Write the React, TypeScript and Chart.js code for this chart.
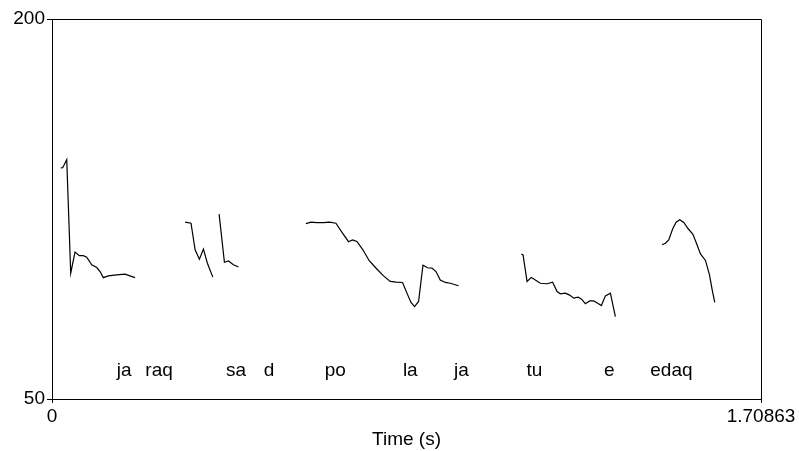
import React, { useEffect, useRef } from "react";
import { Chart, registerables } from "chart.js";

Chart.register(...registerables);

const X_MAX = 1.70863;
const Y_MIN = 50;
const Y_MAX = 200;

const xTickValues = [0, X_MAX];
const xTickLabels = ["0", "1.70863"];
const yTickValues = [50, 200];
const yTickLabels = ["50", "200"];

// pitch contour segments: [time (s), F0 (Hz)]
const seg1: [number, number][] = [
  [0.021, 141.2], [0.0258, 141.3], [0.0355, 144.5], [0.0451, 99.7], [0.0555, 108.0],
  [0.0658, 106.6], [0.0755, 106.6], [0.0837, 106.0], [0.0957, 103.0], [0.1078, 101.9],
  [0.1158, 100.3], [0.1237, 97.9], [0.1358, 98.6], [0.156, 99.0], [0.176, 99.3], [0.2002, 97.9],
];
const seg2: [number, number][] = [
  [0.3207, 119.8], [0.335, 119.4], [0.3449, 108.9], [0.3552, 105.2], [0.3649, 109.2],
  [0.3745, 103.6], [0.3875, 98.1],
];
const seg3: [number, number][] = [
  [0.4027, 123.0], [0.4155, 104.0], [0.4252, 104.5], [0.4372, 103.0], [0.4493, 102.1],
];
const seg4: [number, number][] = [
  [0.6118, 119.2], [0.6239, 119.8], [0.6384, 119.6], [0.6543, 119.6], [0.6687, 119.8],
  [0.6842, 119.4], [0.7001, 115.5], [0.7146, 112.1], [0.7242, 112.8], [0.7348, 112.2],
  [0.7493, 108.9], [0.7645, 104.6], [0.7806, 101.7], [0.799, 98.6], [0.8151, 96.4],
  [0.8296, 96.1], [0.8448, 96.0], [0.8554, 91.8], [0.8651, 88.1], [0.8737, 86.5],
  [0.8834, 88.5], [0.894, 102.8], [0.9051, 101.8], [0.9157, 101.7], [0.9253, 100.3],
  [0.9357, 97.0], [0.9478, 96.0], [0.9598, 95.7], [0.9798, 94.7],
];
const seg5: [number, number][] = [
  [1.1311, 107.2], [1.1352, 106.9], [1.1448, 96.4], [1.1552, 98.0], [1.1648, 97.0],
  [1.1769, 95.7], [1.193, 95.5], [1.2065, 96.1], [1.2171, 92.4], [1.2251, 91.5],
  [1.2371, 91.8], [1.2475, 91.0], [1.2572, 89.8], [1.2678, 90.2], [1.2757, 89.5],
  [1.2854, 87.6], [1.2958, 88.7], [1.3054, 88.7], [1.3151, 87.8], [1.324, 86.9],
  [1.3336, 90.7], [1.3457, 91.8], [1.3577, 82.5],
];
const seg6: [number, number][] = [
  [1.4704, 110.9], [1.4783, 111.5], [1.4863, 112.8], [1.4959, 117.2], [1.5041, 119.8],
  [1.5128, 120.8], [1.5225, 119.7], [1.5331, 117.2], [1.5442, 115.1], [1.5531, 111.5],
  [1.5627, 107.3], [1.5748, 104.7], [1.5845, 99.0], [1.591, 93.1], [1.5972, 88.1],
];
const segments = [seg1, seg2, seg3, seg4, seg5, seg6];

// syllable labels
const syllableLabels = ["ja", "raq", "sa", "d", "po", "la", "ja", "tu", "e", "edaq"];
const syllableTimes = [0.1737, 0.258, 0.4437, 0.5233, 0.6825, 0.8634, 0.9864, 1.1624, 1.3433, 1.4928];
const syllableLevel = 59;

const FONT = "'Liberation Sans', Arial, sans-serif";

const framePlugin = {
  id: "frameAndLabels",
  afterDraw(chart: any) {
    const { ctx, chartArea } = chart;
    const xs = chart.scales.x;
    const ys = chart.scales.y;
    ctx.save();
    ctx.strokeStyle = "#000";
    ctx.lineWidth = 1;
    ctx.beginPath();
    const l = Math.round(chartArea.left) + 0.5;
    const r = Math.round(chartArea.right) + 0.5;
    const t = Math.round(chartArea.top) + 0.5;
    const b = Math.round(chartArea.bottom) + 0.5;
    ctx.moveTo(l, t);
    ctx.lineTo(r, t);
    ctx.lineTo(r, b);
    ctx.stroke();
    ctx.fillStyle = "#000";
    ctx.font = `19px ${FONT}`;
    ctx.textAlign = "center";
    ctx.textBaseline = "alphabetic";
    syllableLabels.forEach((lab, i) => {
      ctx.fillText(lab, xs.getPixelForValue(syllableTimes[i]), ys.getPixelForValue(syllableLevel));
    });
    ctx.restore();
  },
};

export default function App() {
  const ref = useRef<HTMLCanvasElement | null>(null);
  useEffect(() => {
    if (!ref.current) return;
    const chart = new Chart(ref.current, {
      type: "scatter",
      data: {
        datasets: segments.map((s) => ({
          data: s.map(([x, y]) => ({ x, y })),
          showLine: true,
          borderColor: "#000",
          borderWidth: 1.2,
          pointRadius: 0,
          fill: false,
          tension: 0,
        })),
      },
      options: {
        animation: false,
        responsive: false,
        maintainAspectRatio: false,
        layout: { padding: { left: 0, right: 38, top: 19, bottom: 0 } },
        plugins: { legend: { display: false }, tooltip: { enabled: false } },
        scales: {
          x: {
            type: "linear",
            min: 0,
            max: X_MAX,
            afterBuildTicks: (s: any) => {
              s.ticks = xTickValues.map((v) => ({ value: v }));
            },
            afterFit: (s: any) => {
              s.height = 52;
            },
            grid: {
              drawOnChartArea: false,
              drawTicks: true,
              tickLength: 4,
              color: "#000",
              lineWidth: 1,
            },
            border: { display: true, color: "#000", width: 1 },
            ticks: {
              autoSkip: false,
              maxRotation: 0,
              padding: 2,
              color: "#000",
              font: { family: FONT, size: 19 },
              callback: (v: any) => {
                const i = xTickValues.indexOf(Number(v));
                return i >= 0 ? xTickLabels[i] : "";
              },
            },
            title: {
              display: true,
              text: "Time (s)",
              color: "#000",
              font: { family: FONT, size: 19 },
              padding: 0,
            },
          },
          y: {
            type: "linear",
            min: Y_MIN,
            max: Y_MAX,
            afterBuildTicks: (s: any) => {
              s.ticks = yTickValues.map((v) => ({ value: v }));
            },
            afterFit: (s: any) => {
              s.width = 52;
            },
            grid: {
              drawOnChartArea: false,
              drawTicks: true,
              tickLength: 5,
              color: "#000",
              lineWidth: 1,
            },
            border: { display: true, color: "#000", width: 1 },
            ticks: {
              autoSkip: false,
              padding: 2,
              color: "#000",
              font: { family: FONT, size: 19 },
              callback: (v: any) => {
                const i = yTickValues.indexOf(Number(v));
                return i >= 0 ? yTickLabels[i] : "";
              },
            },
          },
        },
      },
      plugins: [framePlugin],
    });
    return () => chart.destroy();
  }, []);
  return (
    <div style={{ position: "absolute", left: 0, top: 0, width: 799, height: 451, background: "#fff" }}>
      <canvas ref={ref} width={799} height={451} style={{ width: 799, height: 451, display: "block" }} />
    </div>
  );
}
